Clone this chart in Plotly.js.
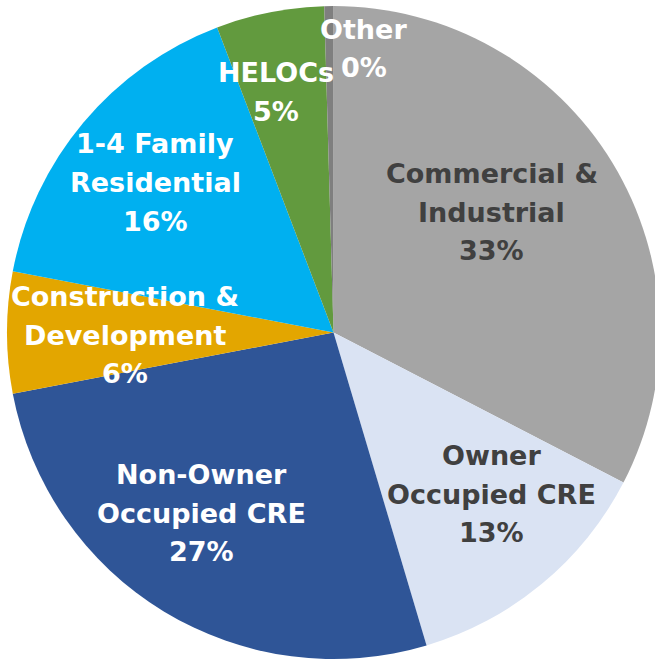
<!DOCTYPE html>
<html>
<head>
<meta charset="utf-8">
<script src="https://cdn.plot.ly/plotly-3.0.1.min.js"></script>
<style>
html, body { margin: 0; padding: 0; overflow: hidden; background: #fff; }
#chart { width: 670px; height: 660px; }
</style>
</head>
<body>
<div id="chart"></div>
<script>
// ---- data ----
const categories = [
  "Commercial &<br>Industrial",
  "Owner<br>Occupied CRE",
  "Non-Owner<br>Occupied CRE",
  "Construction &<br>Development",
  "1-4 Family<br>Residential",
  "HELOCs",
  "Other"
];
const values = [32.6, 12.8, 26.6, 6.0, 16.2, 5.35, 0.45];

// ---- styles ----
const sliceColors = ["#A5A5A5", "#DAE3F3", "#2F5597", "#E3A600", "#00B0F0", "#629A3E", "#7F7F7F"];
const textColors  = ["#404040", "#404040", "#ffffff", "#ffffff", "#ffffff", "#ffffff", "#ffffff"];
// label block positions (pixel centre of block) and line breaking for the label
const labelPos = [
  [491.5, 212], [491, 494], [201, 513], [125, 335], [155, 182.5], [276, 92], [364, 48.5]
];
const W = 670, H = 660, LINE = 38.5, FS = 27;

const total = values.reduce((a, b) => a + b, 0);
const annotations = [];
categories.forEach((cat, i) => {
  const pct = Math.round(values[i] / total * 100) + "%";
  let lines;
  if (cat === "HELOCs") lines = ["HELOCs", pct];
  else if (cat === "Other") lines = ["Other", pct];
  else lines = cat.split("<br>").concat([pct]);
  const n = lines.length;
  lines.forEach((ln, k) => {
    const py = labelPos[i][1] + (k - (n - 1) / 2) * LINE;
    annotations.push({
      text: ln,
      xref: "paper", yref: "paper",
      x: labelPos[i][0] / W, y: 1 - py / H,
      xanchor: "center", yanchor: "middle",
      showarrow: false,
      font: { family: "DejaVu Sans", size: FS, color: textColors[i], weight: "bold" }
    });
  });
});

const trace = {
  type: "pie",
  labels: categories,
  values: values,
  sort: false,
  direction: "clockwise",
  rotation: 0,
  textinfo: "none",
  hoverinfo: "none",
  marker: { colors: sliceColors, line: { width: 0 } },
  domain: { x: [7 / W, 660 / W], y: [1 - 659 / H, 1 - 6 / H] },
  showlegend: false
};

Plotly.newPlot("chart", [trace], {
  width: W, height: H,
  margin: { l: 0, r: 0, t: 0, b: 0, pad: 0 },
  paper_bgcolor: "#ffffff",
  plot_bgcolor: "#ffffff",
  showlegend: false,
  annotations: annotations
}, { staticPlot: true, displayModeBar: false });
</script>
</body>
</html>
